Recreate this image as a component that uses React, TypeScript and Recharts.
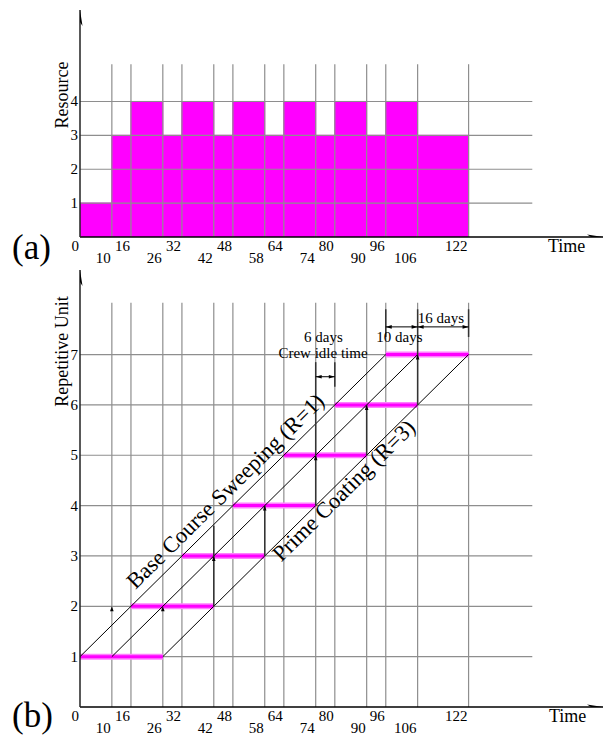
import React from 'react';
import { ComposedChart, Area, Line, XAxis, YAxis, ReferenceLine, Scatter, ReferenceDot } from 'recharts';

// ---------- data ----------
const timeTicks = [0, 10, 16, 26, 32, 42, 48, 58, 64, 74, 80, 90, 96, 106, 122];
const upperRowTicks = [0, 16, 32, 48, 64, 80, 96, 122];
const gridTimes = [10, 16, 26, 32, 42, 48, 58, 64, 74, 80, 90, 96, 106, 122];
const timeMax = 164.2;
const gridTimeEnd = 142;

// (a) resource histogram
const resourceTime = [0, 10, 16, 26, 32, 42, 48, 58, 64, 74, 80, 90, 96, 106, 122];
const resourceLevel = [1, 3, 4, 3, 4, 3, 4, 3, 4, 3, 4, 3, 4, 3, 0];
const resourceTicks = [1, 2, 3, 4];
const resourceMax = 6.7;
const resourceGridTop = 5.1;

// (b) repetitive units
const units = [1, 2, 3, 4, 5, 6, 7];
const sweepStart = [0, 16, 32, 48, 64, 80, 96];
const sweepFinish = [10, 26, 42, 58, 74, 90, 106];
const coatFinish = [26, 42, 58, 74, 90, 106, 122];
const unitMax = 8.68;
const unitGridTop = 8.03;

// crew movement links (time, from unit, to unit)
const linkTime = [42, 58, 74, 90, 106, 80, 96, 122];
const linkFrom = [2, 3, 4, 5, 6, 6.36, 7.35, 7.35];
const linkTo = [3.6, 4, 6.85, 6, 7.9, 6.85, 7.9, 7.9];
// small arrow marks
const markTime = [10, 26, 42, 58, 74, 90, 106];
const markUnit = [2, 2, 3, 4, 5, 6, 7];
// dimension lines
const dimStart = [74, 96, 106];
const dimEnd = [80, 106, 122];
const dimUnit = [6.56, 7.55, 7.55];

const FONT = '"Liberation Serif", "Times New Roman", serif';

// ---------- derived series ----------
const resourceData = resourceTime.map((t, i) => ({ x: t, y: resourceLevel[i] }));
const barData: { x: number; y: number | null }[] = [];
units.forEach((u, i) => {
  barData.push({ x: sweepStart[i], y: u });
  barData.push({ x: coatFinish[i], y: u });
  barData.push({ x: coatFinish[i], y: null });
});
const lineA = units.map((u, i) => ({ x: sweepStart[i], y: u }));
const lineB = units.map((u, i) => ({ x: sweepFinish[i], y: u }));
const lineC = units.map((u, i) => ({ x: coatFinish[i], y: u }));
const marks = markTime.map((t, i) => ({ x: t, y: markUnit[i] }));
const dimLeftArrows = dimStart.map((t, i) => ({ x: t, y: dimUnit[i] }));
const dimRightArrows = dimEnd.map((t, i) => ({ x: t, y: dimUnit[i] }));

const GRID = '#8e8e8e';

const makeTimeTick = (y1: number, y2: number) => (props: any) => {
  const { x, payload } = props;
  const v = payload.value;
  const upper = upperRowTicks.includes(v);
  return (
    <text x={x - 1} y={upper ? y1 : y2} textAnchor="end" fontSize={15} fontFamily={FONT} fill="#000">
      {v}
    </text>
  );
};

const yTick = (props: any) => (
  <text x={78} y={props.y + 5} textAnchor="end" fontSize={15} fontFamily={FONT} fill="#000">
    {props.payload.value}
  </text>
);

const xArrow = (p: any) => (
  <path d={`M${p.cx},${p.cy} L${p.cx - 16},${p.cy - 2.5} L${p.cx - 12},${p.cy} L${p.cx - 16},${p.cy + 2.5} Z`} fill="#000" />
);
const yArrow = (p: any) => (
  <path d={`M${p.cx},${p.cy} L${p.cx - 2.5},${p.cy + 16} L${p.cx},${p.cy + 12} L${p.cx + 2.5},${p.cy + 16} Z`} fill="#000" />
);
const smallUp = (p: any) => (
  <path d={`M${p.cx},${p.cy} L${p.cx - 1.8},${p.cy + 5} L${p.cx + 1.8},${p.cy + 5} Z`} fill="#000" />
);
const smallLeft = (p: any) => (
  <path d={`M${p.cx},${p.cy} L${p.cx + 6},${p.cy - 1.8} L${p.cx + 6},${p.cy + 1.8} Z`} fill="#000" />
);
const smallRight = (p: any) => (
  <path d={`M${p.cx},${p.cy} L${p.cx - 6},${p.cy - 1.8} L${p.cx - 6},${p.cy + 1.8} Z`} fill="#000" />
);

const textShape = (label: string, size: number, angle = 0) => (p: any) => (
  <text
    x={p.cx}
    y={p.cy}
    textAnchor="middle"
    dominantBaseline="central"
    fontSize={size}
    fontFamily={FONT}
    fill="#000"
    transform={angle ? `rotate(${angle}, ${p.cx}, ${p.cy})` : undefined}
  >
    {label}
  </text>
);

function ChartA() {
  return (
    <ComposedChart width={607} height={265} margin={{ top: 10, right: 4, left: 0, bottom: 0 }}>
      <XAxis
        dataKey="x"
        type="number"
        domain={[0, timeMax]}
        ticks={timeTicks}
        interval={0}
        tickLine={false}
        axisLine={{ stroke: '#000', strokeWidth: 1.3 }}
        height={28}
        tick={makeTimeTick(251, 263)}
        allowDataOverflow
      />
      <YAxis
        dataKey="y"
        type="number"
        domain={[0, resourceMax]}
        ticks={resourceTicks}
        interval={0}
        tickLine={false}
        axisLine={{ stroke: '#222', strokeWidth: 1.5 }}
        width={80}
        tick={yTick}
        allowDataOverflow
      />
      {resourceTicks.map((v) => (
        <ReferenceLine key={'h' + v} segment={[{ x: 0, y: v }, { x: gridTimeEnd, y: v }]} stroke={GRID} strokeWidth={1.2} />
      ))}
      <Area
        data={resourceData}
        dataKey="y"
        type="stepAfter"
        fill="#ff00ff"
        fillOpacity={1}
        stroke="#ff00ff"
        strokeWidth={1}
        isAnimationActive={false}
        dot={false}
        activeDot={false}
      />
      {gridTimes.map((t) => (
        <ReferenceLine key={'v' + t} segment={[{ x: t, y: 0 }, { x: t, y: resourceGridTop }]} stroke={GRID} strokeWidth={1.2} />
      ))}
      <Scatter data={[{ x: timeMax, y: 0 }]} dataKey="y" shape={xArrow} isAnimationActive={false} />
      <Scatter data={[{ x: 0, y: resourceMax }]} dataKey="y" shape={yArrow} isAnimationActive={false} />
    </ComposedChart>
  );
}

function ChartB() {
  return (
    <ComposedChart width={607} height={473} margin={{ top: 5, right: 4, left: 0, bottom: 0 }}>
      <XAxis
        dataKey="x"
        type="number"
        domain={[0, timeMax]}
        ticks={timeTicks}
        interval={0}
        tickLine={false}
        axisLine={{ stroke: '#000', strokeWidth: 1.3 }}
        height={31}
        tick={makeTimeTick(456, 468)}
        allowDataOverflow
      />
      <YAxis
        dataKey="y"
        type="number"
        domain={[0, unitMax]}
        ticks={units}
        interval={0}
        tickLine={false}
        axisLine={{ stroke: '#222', strokeWidth: 1.5 }}
        width={80}
        tick={yTick}
        allowDataOverflow
      />
      {units.map((v) => (
        <ReferenceLine key={'h' + v} segment={[{ x: 0, y: v }, { x: gridTimeEnd, y: v }]} stroke={GRID} strokeWidth={1.2} />
      ))}
      {gridTimes.map((t) => (
        <ReferenceLine key={'v' + t} segment={[{ x: t, y: 0 }, { x: t, y: unitGridTop }]} stroke={GRID} strokeWidth={1.2} />
      ))}
      <Line data={barData} dataKey="y" stroke="#ff80ff" strokeWidth={6} dot={false} activeDot={false} isAnimationActive={false} connectNulls={false} />
      <Line data={barData} dataKey="y" stroke="#ff00ff" strokeWidth={3} dot={false} activeDot={false} isAnimationActive={false} connectNulls={false} />
      <Line data={lineA} dataKey="y" stroke="#000" strokeWidth={1} dot={false} activeDot={false} isAnimationActive={false} />
      <Line data={lineB} dataKey="y" stroke="#000" strokeWidth={1} dot={false} activeDot={false} isAnimationActive={false} />
      <Line data={lineC} dataKey="y" stroke="#000" strokeWidth={1} dot={false} activeDot={false} isAnimationActive={false} />
      {linkTime.map((t, i) => (
        <ReferenceLine key={'l' + i} segment={[{ x: t, y: linkFrom[i] }, { x: t, y: linkTo[i] }]} stroke="#333" strokeWidth={1.5} />
      ))}
      {dimStart.map((t, i) => (
        <ReferenceLine key={'d' + i} segment={[{ x: t, y: dimUnit[i] }, { x: dimEnd[i], y: dimUnit[i] }]} stroke="#000" strokeWidth={1} />
      ))}
      <Scatter data={marks} dataKey="y" shape={smallUp} isAnimationActive={false} />
      <Scatter data={dimLeftArrows} dataKey="y" shape={smallLeft} isAnimationActive={false} />
      <Scatter data={dimRightArrows} dataKey="y" shape={smallRight} isAnimationActive={false} />
      <Scatter data={[{ x: timeMax, y: 0 }]} dataKey="y" shape={xArrow} isAnimationActive={false} />
      <Scatter data={[{ x: 0, y: unitMax }]} dataKey="y" shape={yArrow} isAnimationActive={false} />
      <ReferenceDot x={45.6} y={4.29} r={0} shape={textShape('Base Course Sweeping (R=1)', 22.5, -44.6)} />
      <ReferenceDot x={82.8} y={4.3} r={0} shape={textShape('Prime Coating (R=3)', 22.5, -44.6)} />
      <ReferenceDot x={76.4} y={7.35} r={0} shape={textShape('6 days', 15)} />
      <ReferenceDot x={76.3} y={7.03} r={0} shape={textShape('Crew idle time', 15)} />
      <ReferenceDot x={100.3} y={7.35} r={0} shape={textShape('10 days', 15)} />
      <ReferenceDot x={113.3} y={7.73} r={0} shape={textShape('16 days', 15)} />
    </ComposedChart>
  );
}

export default function App() {
  return (
    <div style={{ position: 'absolute', left: 0, top: 0, width: 607, height: 738, background: '#fff', fontFamily: FONT }}>
      <div style={{ position: 'absolute', left: 0, top: 0 }}>
        <ChartA />
      </div>
      <div style={{ position: 'absolute', left: 0, top: 265 }}>
        <ChartB />
      </div>
      <svg width={607} height={738} style={{ position: 'absolute', left: 0, top: 0, pointerEvents: 'none' }}>
        <text x={12} y={259} fontSize={35} fontFamily={FONT} fill="#000">(a)</text>
        <text x={12} y={727} fontSize={35} fontFamily={FONT} fill="#000">(b)</text>
        <text x={548} y={252} fontSize={18} fontFamily={FONT} fill="#000">Time</text>
        <text x={549} y={722} fontSize={18} fontFamily={FONT} fill="#000">Time</text>
        <text transform="translate(68,95) rotate(-90)" textAnchor="middle" fontSize={18} fontFamily={FONT} fill="#000">Resource</text>
        <text transform="translate(68,351.5) rotate(-90)" textAnchor="middle" fontSize={18} fontFamily={FONT} fill="#000">Repetitive Unit</text>
      </svg>
    </div>
  );
}
